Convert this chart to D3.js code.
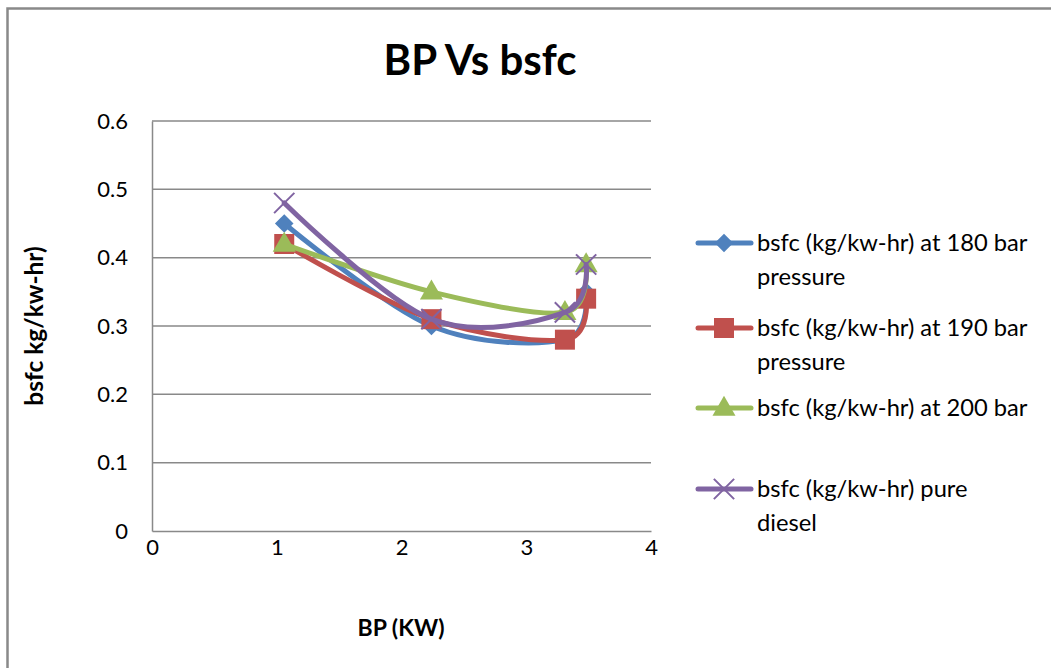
<!DOCTYPE html>
<html><head><meta charset="utf-8">
<script src="https://cdn.jsdelivr.net/npm/d3@7"></script>
<style>body{margin:0;background:#fff;} svg{display:block;font-family:Lato, "Open Sans", sans-serif;}</style>
</head><body>
<svg id="c" width="1051" height="668"></svg>
<script>
const bpValues = [1.06, 2.24, 3.31, 3.48];
const series180 = [0.45, 0.30, 0.28, 0.35];
const series190 = [0.42, 0.31, 0.28, 0.34];
const series200 = [0.42, 0.35, 0.32, 0.39];
const seriesDiesel = [0.48, 0.31, 0.32, 0.39];
const seriesNames = [
  ["bsfc (kg/kw-hr) at 180 bar", "pressure"],
  ["bsfc (kg/kw-hr) at 190 bar", "pressure"],
  ["bsfc (kg/kw-hr) at 200 bar"],
  ["bsfc (kg/kw-hr) pure", "diesel"]
];
const xTicks = [0, 1, 2, 3, 4];
const yTicks = [0, 0.1, 0.2, 0.3, 0.4, 0.5, 0.6];

const colors = ["#4F81BD", "#C0504D", "#9BBB59", "#8064A2"];
const markers = ["diamond", "square", "triangle", "x"];
const allSeries = [series180, series190, series200, seriesDiesel];

const svg = d3.select("#c");
// outer frame
svg.append("path").attr("d", "M7.5,668 L7.5,8.5 L1051,8.5").attr("fill", "none").attr("stroke", "#898989").attr("stroke-width", 2.5);

const x = d3.scaleLinear().domain([0, 4]).range([152, 651]);
const y = d3.scaleLinear().domain([0, 0.6]).range([531, 121]);

// gridlines
const grid = svg.append("g");
grid.selectAll("line").data(yTicks.filter(d => d > 0)).join("line")
  .attr("x1", x(0)).attr("x2", x(4)).attr("y1", d => y(d)).attr("y2", d => y(d))
  .attr("stroke", "#898989").attr("stroke-width", 1.5);

// axes
const yAxis = d3.axisLeft(y).tickValues(yTicks).tickSize(0).tickPadding(24).tickFormat(d => d === 0 ? "0" : d3.format(".1f")(d));
const gy = svg.append("g").attr("transform", `translate(${x(0)},0)`).call(yAxis);
gy.select(".domain").attr("stroke", "#898989").attr("stroke-width", 1.5);
gy.selectAll("text").attr("font-size", 22).attr("fill", "#000").attr("font-family", "Lato");

const xAxis = d3.axisBottom(x).tickValues(xTicks).tickSize(0).tickPadding(8).tickFormat(d3.format("d"));
const gx = svg.append("g").attr("transform", `translate(0,${y(0)})`).call(xAxis);
gx.select(".domain").attr("stroke", "#898989").attr("stroke-width", 1.5);
gx.selectAll("text").attr("font-size", 22).attr("fill", "#000").attr("font-family", "Lato");

// titles
svg.append("text").attr("x", 480).attr("y", 75).attr("text-anchor", "middle")
  .attr("font-size", 42).attr("font-weight", "bold").text("BP Vs bsfc");
svg.append("text").attr("x", 401).attr("y", 636).attr("text-anchor", "middle")
  .attr("font-size", 23).attr("font-weight", "bold").text("BP (KW)");
svg.append("text").attr("transform", "translate(43,326) rotate(-90)").attr("text-anchor", "middle")
  .attr("font-size", 24.5).attr("font-weight", "bold").text("bsfc kg/kw-hr)");

function drawMarker(g, type, cx, cy, color) {
  if (type === "diamond") {
    g.append("path").attr("d", d3.symbol(d3.symbolDiamond2, 220)()).attr("transform", `translate(${cx},${cy})`)
      .attr("fill", color);
  } else if (type === "square") {
    g.append("rect").attr("x", cx - 10).attr("y", cy - 10).attr("width", 20).attr("height", 20).attr("fill", color);
  } else if (type === "triangle") {
    g.append("path").attr("d", d3.symbol(d3.symbolTriangle, 230)()).attr("transform", `translate(${cx},${cy+1})`).attr("fill", color);
  } else {
    g.append("path").attr("d", d3.symbol(d3.symbolX, 270)()).attr("transform", `translate(${cx},${cy})`)
      .attr("fill", "none").attr("stroke", color).attr("stroke-width", 2);
  }
}

const line = d3.line().x(d => x(d[0])).y(d => y(d[1])).curve(d3.curveCatmullRom.alpha(0));
allSeries.forEach((s, i) => {
  const pts = bpValues.map((b, j) => [b, s[j]]);
  const g = svg.append("g");
  g.append("path").datum(pts).attr("d", line).attr("fill", "none")
    .attr("stroke", colors[i]).attr("stroke-width", 5).attr("stroke-linecap", "round");
  pts.forEach(p => drawMarker(g, markers[i], x(p[0]), y(p[1]), colors[i]));
});

// legend
const legendY = [243, 328, 408, 489];
seriesNames.forEach((lines, i) => {
  const g = svg.append("g");
  const ly = legendY[i];
  g.append("line").attr("x1", 698).attr("x2", 751).attr("y1", ly).attr("y2", ly)
    .attr("stroke", colors[i]).attr("stroke-width", 5).attr("stroke-linecap", "round");
  drawMarker(g, markers[i], 724, ly, colors[i]);
  lines.forEach((t, k) => {
    g.append("text").attr("x", 757).attr("y", ly + 8 + k * 34).attr("font-size", 23.7).attr("fill", "#000").text(t);
  });
});
</script>
</body></html>
